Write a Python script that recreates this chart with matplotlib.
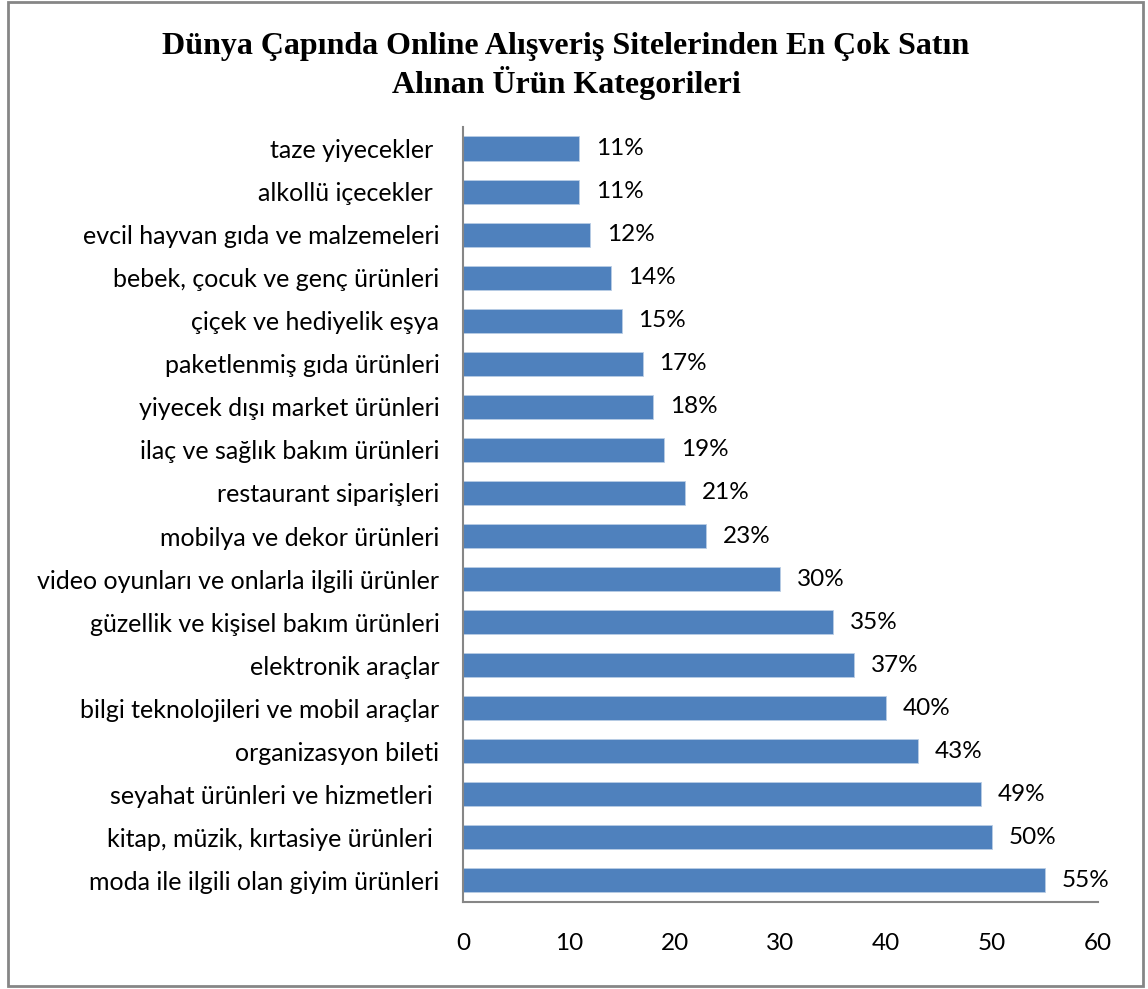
import matplotlib.pyplot as plt
from matplotlib.patches import Rectangle

# categories listed bottom to top (as drawn on the y axis)
categories = [
    "moda ile ilgili olan giyim ürünleri",
    "kitap, müzik, kırtasiye ürünleri ",
    "seyahat ürünleri ve hizmetleri ",
    "organizasyon bileti",
    "bilgi teknolojileri ve mobil araçlar",
    "elektronik araçlar",
    "güzellik ve kişisel bakım ürünleri",
    "video oyunları ve onlarla ilgili ürünler",
    "mobilya ve dekor ürünleri",
    "restaurant siparişleri",
    "ilaç ve sağlık bakım ürünleri",
    "yiyecek dışı market ürünleri",
    "paketlenmiş gıda ürünleri",
    "çiçek ve hediyelik eşya",
    "bebek, çocuk ve genç ürünleri",
    "evcil hayvan gıda ve malzemeleri",
    "alkollü içecekler ",
    "taze yiyecekler ",
]
values = [55, 50, 49, 43, 40, 37, 35, 30, 23, 21, 19, 18, 17, 15, 14, 12, 11, 11]
xticks = [0, 10, 20, 30, 40, 50, 60]
title = "Dünya Çapında Online Alışveriş Sitelerinden En Çok Satın\nAlınan Ürün Kategorileri"

label_font = ["Lato", "DejaVu Sans"]

fig = plt.figure(figsize=(11.48, 9.89), dpi=100)
ax = fig.add_axes([0.4033, 0.088, 0.553, 0.7836])

ypos = list(range(len(categories)))
ax.barh(ypos, values, height=0.56, color="#4F81BD", edgecolor="#B9CDE5", linewidth=0.6)

for y, v in zip(ypos, values):
    ax.annotate(f"{v}%", xy=(v, y), xytext=(12, 0), textcoords="offset points",
                ha="left", va="center", fontsize=17.5, family=label_font, color="black")

ax.set_xlim(0, 60)
ax.set_ylim(-0.5, len(categories) - 0.5)
ax.set_yticks(ypos)
ax.set_yticklabels(categories, fontsize=18, family=label_font)
ax.set_xticks(xticks)
ax.set_xticklabels([str(t) for t in xticks], fontsize=17.5, family=label_font)
ax.tick_params(axis="y", length=0, pad=17)
ax.tick_params(axis="x", length=0, pad=22)

for side in ("top", "right"):
    ax.spines[side].set_visible(False)
for side in ("left", "bottom"):
    ax.spines[side].set_color("#868686")
    ax.spines[side].set_linewidth(1.5)

fig.text(0.493, 0.933, title, ha="center", va="center", fontsize=23,
         fontweight="bold", family=["Liberation Serif", "DejaVu Serif"],
         linespacing=1.2)

fig.patches.append(Rectangle((0.007, 0.003), 0.989, 0.995, transform=fig.transFigure,
                             fill=False, edgecolor="#868686", linewidth=2))

fig.savefig("out.png", dpi=100)
